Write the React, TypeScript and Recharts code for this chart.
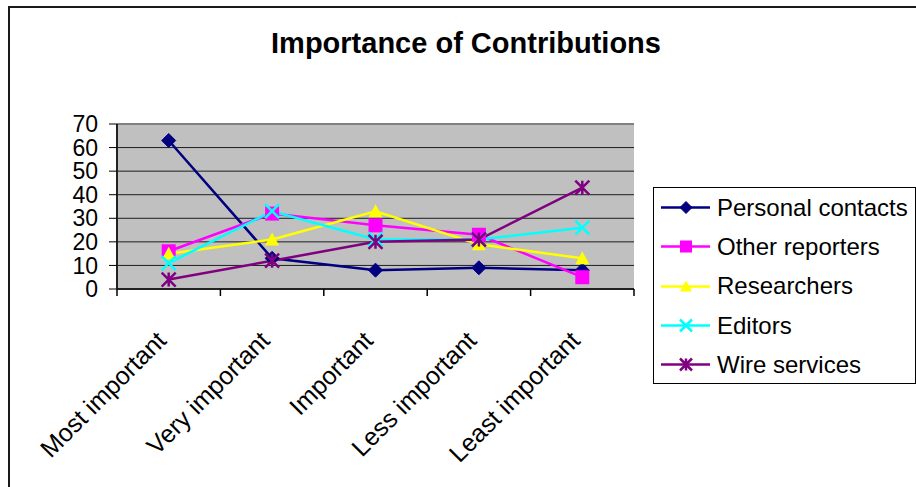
import { CartesianGrid, Legend, Line, LineChart, ReferenceLine, XAxis, YAxis } from 'recharts'

const categories = ['Most important', 'Very important', 'Important', 'Less important', 'Least important']
const personalContacts = [63, 13, 8, 9, 8]
const otherReporters = [16, 32, 27, 23, 5]
const researchers = [15, 21, 33, 19, 13]
const editors = [11, 33, 21, 21, 26]
const wireServices = [4, 12, 20, 21, 43]
const yTicks = [0, 10, 20, 30, 40, 50, 60, 70]

const FONT = '"Liberation Sans", Arial, sans-serif'
const W = 916
const H = 487
// plot box in page pixels
const PLOT_LEFT = 117
const PLOT_RIGHT = 634
const PLOT_TOP = 124
const PLOT_BOTTOM = 289
const BAND = (PLOT_RIGHT - PLOT_LEFT) / categories.length

type Shape = 'diamond' | 'square' | 'triangle' | 'x' | 'star'

const series: { key: string; name: string; color: string; shape: Shape; values: number[] }[] = [
  { key: 'personal', name: 'Personal contacts', color: '#000080', shape: 'diamond', values: personalContacts },
  { key: 'reporters', name: 'Other reporters', color: '#ff00ff', shape: 'square', values: otherReporters },
  { key: 'researchers', name: 'Researchers', color: '#ffff00', shape: 'triangle', values: researchers },
  { key: 'editors', name: 'Editors', color: '#00ffff', shape: 'x', values: editors },
  { key: 'wire', name: 'Wire services', color: '#800080', shape: 'star', values: wireServices },
]

const data = categories.map((category, i) => {
  const row: Record<string, string | number> = { category }
  series.forEach((s) => {
    row[s.key] = s.values[i]
  })
  return row
})

function Marker({ cx, cy, shape, color, r }: { cx: number; cy: number; shape: Shape; color: string; r: number }) {
  if (cx == null || cy == null) return null
  switch (shape) {
    case 'diamond':
      return (
        <polygon
          points={`${cx},${cy - r} ${cx + r},${cy} ${cx},${cy + r} ${cx - r},${cy}`}
          fill={color}
          stroke={color}
        />
      )
    case 'square':
      return <rect x={cx - r} y={cy - r} width={2 * r} height={2 * r} fill={color} />
    case 'triangle':
      return (
        <polygon
          points={`${cx},${cy - r} ${cx + r},${cy + r * 0.85} ${cx - r},${cy + r * 0.85}`}
          fill={color}
        />
      )
    case 'x':
      return (
        <path
          d={`M${cx - r},${cy - r}L${cx + r},${cy + r}M${cx - r},${cy + r}L${cx + r},${cy - r}`}
          stroke={color}
          strokeWidth={2.5}
          fill="none"
        />
      )
    default:
      return (
        <path
          d={`M${cx - r},${cy - r}L${cx + r},${cy + r}M${cx - r},${cy + r}L${cx + r},${cy - r}M${cx},${cy - r}L${cx},${cy + r}`}
          stroke={color}
          strokeWidth={2.5}
          fill="none"
        />
      )
  }
}

function CategoryTick(props: any) {
  const { x, y, payload, index } = props
  const tx = x - 1
  const ty = y + 53
  return (
    <g>
      <line x1={x - BAND / 2} x2={x - BAND / 2} y1={y} y2={y + 7} stroke="#000" strokeWidth={1.5} />
      {index === categories.length - 1 && (
        <line x1={x + BAND / 2} x2={x + BAND / 2} y1={y} y2={y + 7} stroke="#000" strokeWidth={1.5} />
      )}
      <text
        x={tx}
        y={ty}
        transform={`rotate(-45 ${tx} ${ty})`}
        textAnchor="end"
        fontSize={25}
        fontFamily={FONT}
        fill="#000"
      >
        {payload.value}
      </text>
    </g>
  )
}

function LegendBox() {
  return (
    <div
      style={{
        boxSizing: 'border-box',
        width: 263,
        height: 197,
        border: '1px solid #000',
        background: '#fff',
        fontFamily: FONT,
        fontSize: 24,
        color: '#000',
      }}
    >
      {series.map((s) => (
        <div key={s.key} style={{ display: 'flex', alignItems: 'center', height: 39.3 }}>
          <svg width={62} height={39} style={{ flex: 'none' }}>
            <line x1={7} x2={56} y1={19.5} y2={19.5} stroke={s.color} strokeWidth={2.5} />
            <Marker cx={32} cy={19.5} shape={s.shape} color={s.color} r={6} />
          </svg>
          <span style={{ marginLeft: 1, whiteSpace: 'nowrap' }}>{s.name}</span>
        </div>
      ))}
    </div>
  )
}

export default function App() {
  return (
    <div
      style={{
        position: 'absolute',
        left: 0,
        top: 0,
        width: W,
        height: H,
        overflow: 'hidden',
        background: '#fff',
      }}
    >
      <div
        style={{
          position: 'absolute',
          left: 8,
          top: 6,
          width: 1000,
          height: 1000,
          borderLeft: '2px solid #1a1a1a',
          borderTop: '2px solid #1a1a1a',
        }}
      />
      <div
        style={{
          position: 'absolute',
          left: 266,
          top: 29,
          width: 400,
          textAlign: 'center',
          fontFamily: FONT,
          fontWeight: 'bold',
          fontSize: 29,
          lineHeight: '29px',
          color: '#000',
        }}
      >
        Importance of Contributions
      </div>
      <div style={{ position: 'absolute', left: 0, top: 0 }}>
        <LineChart
          width={W}
          height={H}
          data={data}
          margin={{ top: PLOT_TOP, right: W - PLOT_RIGHT, left: PLOT_LEFT - 60, bottom: H - PLOT_BOTTOM - 150 }}
        >
          <CartesianGrid vertical={false} fill="#c0c0c0" fillOpacity={1} stroke="#000" strokeOpacity={0.85} />
          <XAxis
            dataKey="category"
            height={150}
            interval={0}
            padding={{ left: BAND / 2, right: BAND / 2 }}
            tickSize={0}
            tickMargin={0}
            tickLine={false}
            axisLine={{ stroke: '#222', strokeWidth: 2 }}
            tick={<CategoryTick />}
          />
          <YAxis
            domain={[0, 70]}
            ticks={yTicks}
            interval={0}
            width={60}
            tickSize={8}
            tickMargin={11}
            axisLine={{ stroke: '#222', strokeWidth: 2 }}
            tickLine={{ stroke: '#000' }}
            tick={{ fontSize: 23, fontFamily: FONT, fill: '#000' }}
          />
          <YAxis
            yAxisId="frame"
            orientation="right"
            width={0}
            tick={false}
            tickLine={false}
            axisLine={{ stroke: '#808080', strokeWidth: 3 }}
          />
          <ReferenceLine y={70} stroke="#808080" strokeWidth={2} />
          <Legend
            layout="vertical"
            align="center"
            verticalAlign="middle"
            wrapperStyle={{ left: 653, top: 187, width: 263, height: 197 }}
            content={() => <LegendBox />}
          />
          {series.map((s) => (
            <Line
              key={s.key}
              dataKey={s.key}
              name={s.name}
              stroke={s.color}
              strokeWidth={2.5}
              isAnimationActive={false}
              dot={(p: any) => (
                <Marker key={`${s.key}-${p.index}`} cx={p.cx} cy={p.cy} shape={s.shape} color={s.color} r={7} />
              )}
              activeDot={false}
            />
          ))}
        </LineChart>
      </div>
    </div>
  )
}
